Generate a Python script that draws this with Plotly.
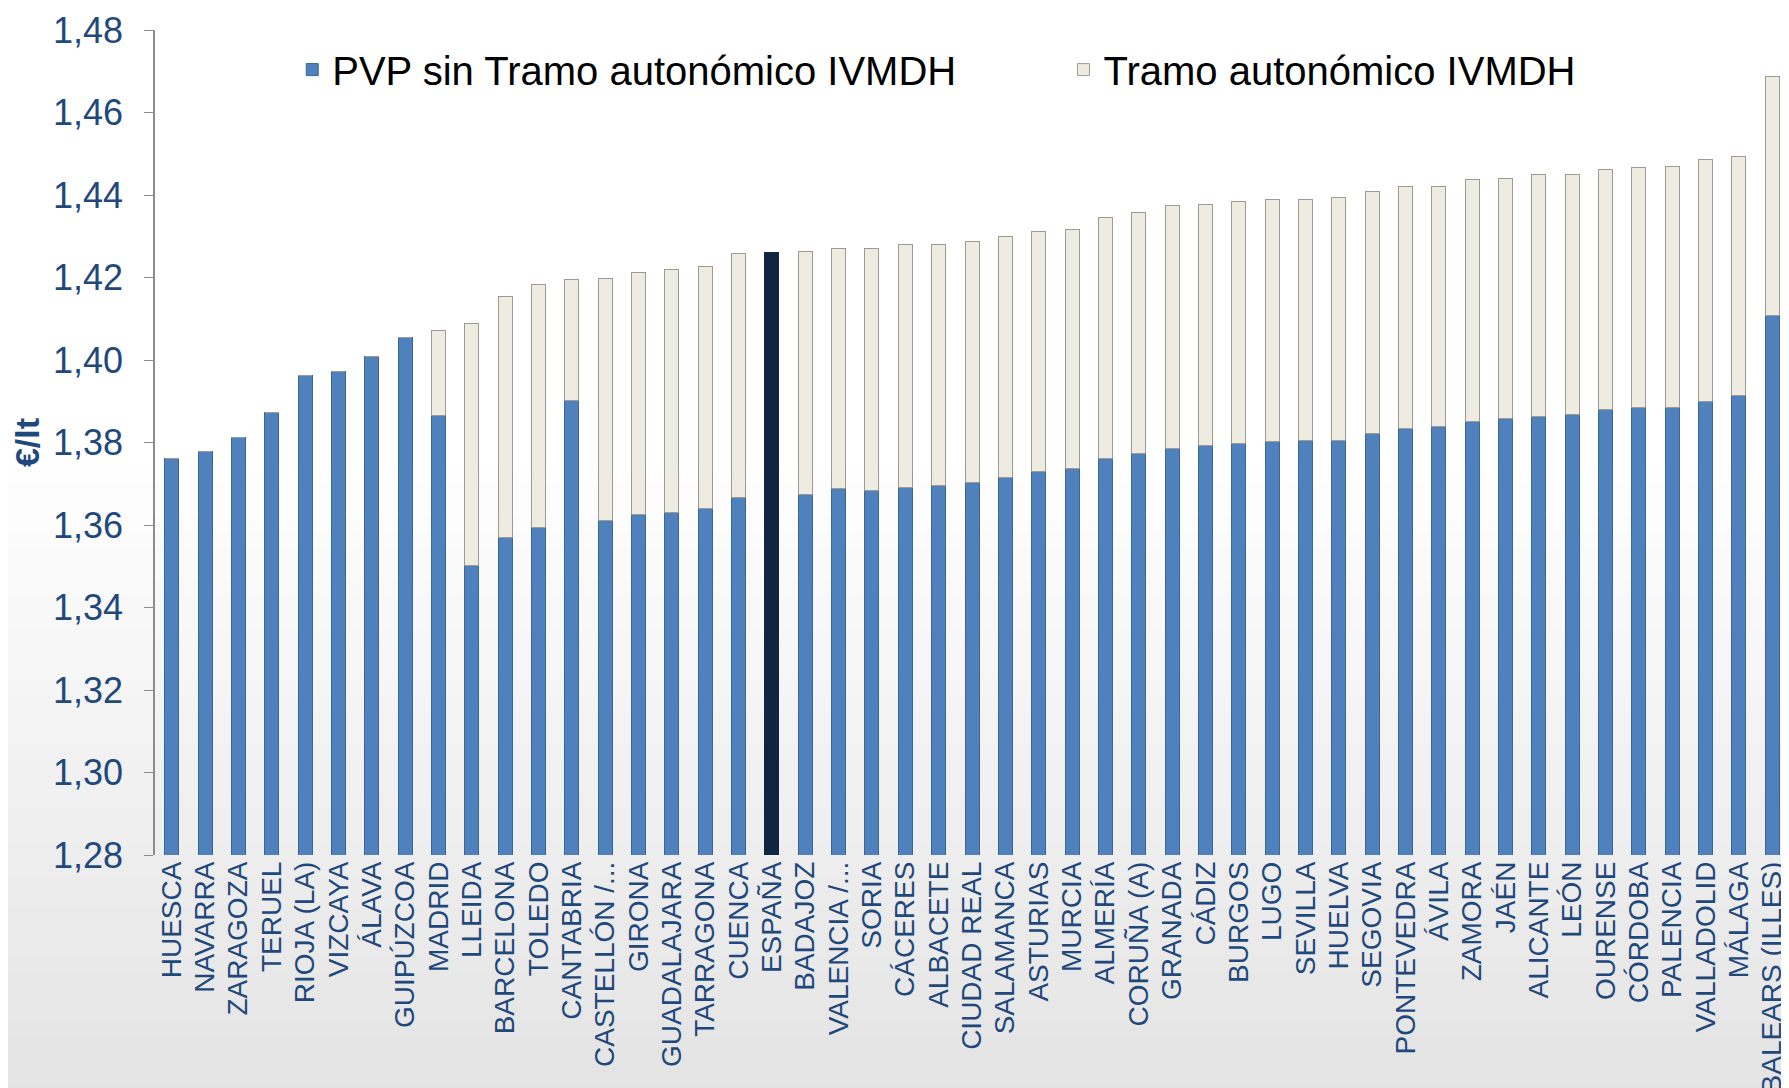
import plotly.graph_objects as go

provincias = ["HUESCA", "NAVARRA", "ZARAGOZA", "TERUEL", "RIOJA (LA)", "VIZCAYA", "ÁLAVA",
              "GUIPÚZCOA", "MADRID", "LLEIDA", "BARCELONA", "TOLEDO", "CANTABRIA",
              "CASTELLÓN /...", "GIRONA", "GUADALAJARA", "TARRAGONA", "CUENCA", "ESPAÑA",
              "BADAJOZ", "VALENCIA /...", "SORIA", "CÁCERES", "ALBACETE", "CIUDAD REAL",
              "SALAMANCA", "ASTURIAS", "MURCIA", "ALMERÍA", "CORUÑA (A)", "GRANADA", "CÁDIZ",
              "BURGOS", "LUGO", "SEVILLA", "HUELVA", "SEGOVIA", "PONTEVEDRA", "ÁVILA",
              "ZAMORA", "JAÉN", "ALICANTE", "LEÓN", "OURENSE", "CÓRDOBA", "PALENCIA",
              "VALLADOLID", "MÁLAGA", "BALEARS (ILLES)"]

pvp_sin_tramo = [1.3762, 1.3778, 1.3811, 1.3873, 1.3963, 1.3971, 1.4008, 1.4054, 1.3865,
                 1.3503, 1.3570, 1.3594, 1.3902, 1.3610, 1.3626, 1.3631, 1.3639, 1.3667,
                 1.3680, 1.3675, 1.3688, 1.3684, 1.3692, 1.3696, 1.3704, 1.3714, 1.3730,
                 1.3736, 1.3761, 1.3773, 1.3785, 1.3792, 1.3798, 1.3802, 1.3806, 1.3806,
                 1.3823, 1.3835, 1.3839, 1.3851, 1.3859, 1.3863, 1.3867, 1.3881, 1.3885,
                 1.3885, 1.3900, 1.3914, 1.4107]

tramo_autonomico = [0.0, 0.0, 0.0, 0.0, 0.0, 0.0, 0.0, 0.0, 0.0207,
                    0.0585, 0.0584, 0.0588, 0.0292, 0.0588, 0.0585, 0.0588, 0.0588, 0.0590,
                    0.0581, 0.0588, 0.0583, 0.0587, 0.0589, 0.0585, 0.0583, 0.0586, 0.0582,
                    0.0580, 0.0585, 0.0585, 0.0589, 0.0585, 0.0587, 0.0587, 0.0583, 0.0587,
                    0.0586, 0.0586, 0.0582, 0.0586, 0.0582, 0.0586, 0.0582, 0.0581, 0.0581,
                    0.0585, 0.0586, 0.0580, 0.0581]

y_ticks = [1.28, 1.30, 1.32, 1.34, 1.36, 1.38, 1.40, 1.42, 1.44, 1.46, 1.48]
y_tick_labels = ["1,28", "1,30", "1,32", "1,34", "1,36", "1,38", "1,40", "1,42", "1,44", "1,46", "1,48"]

serie_pvp = "PVP sin Tramo autonómico IVMDH"
serie_tramo = "Tramo autonómico IVMDH"
titulo_y = "€/lt"
destacado = "ESPAÑA"

AZUL = "#4F81BD"
AZUL_BORDE = "#3B6596"
OSCURO = "#10253F"
CREMA = "#EEECE1"
CREMA_BORDE = "#9C9A92"
TEXTO = "#1F497D"
FONT = "Liberation Sans, Arial, sans-serif"

col_pvp = [OSCURO if p == destacado else AZUL for p in provincias]
lin_pvp = [OSCURO if p == destacado else AZUL_BORDE for p in provincias]
col_tr = [OSCURO if p == destacado else CREMA for p in provincias]
lin_tr = [OSCURO if p == destacado else CREMA_BORDE for p in provincias]

fig = go.Figure()
fig.add_trace(go.Bar(x=provincias, y=pvp_sin_tramo, name=serie_pvp, legend="legend",
                     marker=dict(color=col_pvp, line=dict(color=lin_pvp, width=1))))
fig.add_trace(go.Bar(x=provincias, y=tramo_autonomico, name=serie_tramo, legend="legend2",
                     marker=dict(color=col_tr, line=dict(color=lin_tr, width=1))))

# soft vertical gradient in the background (white -> light grey)
shapes = []
n = 40
top_p, bot_p = 0.49, -0.30
for i in range(n):
    y0 = bot_p + (top_p - bot_p) * i / n
    y1 = bot_p + (top_p - bot_p) * (i + 1) / n
    t = 1 - (i + 0.5) / n
    g = int(round(255 - 28 * t))
    shapes.append(dict(type="rect", xref="paper", yref="paper", x0=-0.12, x1=1.03,
                       y0=y0, y1=y1 + 0.001, layer="below", line=dict(width=0),
                       fillcolor=f"rgb({g},{g},{g})"))

leg_common = dict(orientation="h", yanchor="middle", y=0.952, xanchor="left",
                  font=dict(size=40, color="black", family=FONT), bgcolor="rgba(0,0,0,0)")

fig.update_layout(
    width=1789, height=1088,
    barmode="stack", bargap=0.58,
    paper_bgcolor="white", plot_bgcolor="rgba(0,0,0,0)",
    margin=dict(l=147, r=8, t=22, b=241),
    font=dict(family=FONT, color=TEXTO),
    shapes=shapes,
    showlegend=True,
    legend=dict(x=0.084, **leg_common),
    legend2=dict(x=0.556, **leg_common),
)
fig.update_yaxes(range=[1.28, 1.48], tickvals=y_ticks, ticktext=y_tick_labels,
                 automargin=False,
                 showgrid=False, zeroline=False, showline=True, linecolor="#8C8C8C",
                 linewidth=1.5, ticks="outside", ticklen=9, tickcolor="#8C8C8C",
                 ticklabelstandoff=14, ticklabeloverflow="allow",
                 tickfont=dict(size=36, color=TEXTO, family=FONT),
                 title=dict(text=f"<b>{titulo_y}</b>", font=dict(size=34, color=TEXTO, family=FONT),
                            standoff=10))
fig.update_xaxes(type="category", tickmode="array", tickvals=provincias, ticktext=provincias,
                 automargin=False,
                 tickangle=-90, showgrid=False, showline=False,
                 ticks="", tickfont=dict(size=28, color=TEXTO, family=FONT))

fig.write_html("out.html")
